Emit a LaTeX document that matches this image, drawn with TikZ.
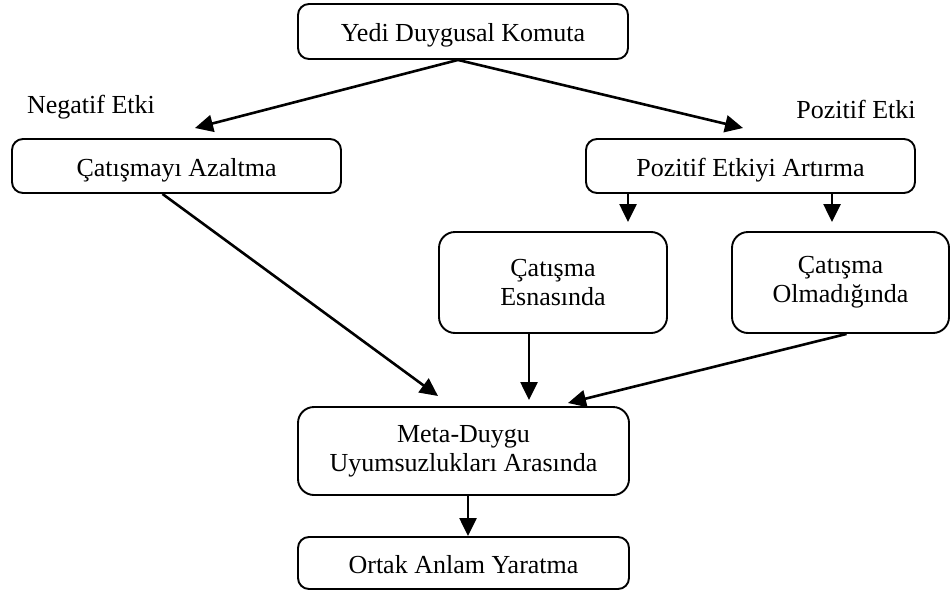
\documentclass[tikz,border=0pt]{standalone}
\usepackage{fontspec}
\setmainfont{Liberation Serif}
\usetikzlibrary{arrows.meta}

\begin{document}
\begin{tikzpicture}[x=1pt, y=-1pt,
  kutu/.style={draw, line width=1.9pt, rounded corners=11pt, align=center,
    font=\fontsize{26}{29}\selectfont, inner sep=0pt},
  tek/.style={text height=24pt, text depth=4pt},
  etiket/.style={font=\fontsize{26}{29}\selectfont, inner sep=0pt},
  ok/.style={line width=2.6pt, -{Triangle[length=18pt,width=17pt]}}]
  \useasboundingbox (0,0) rectangle (952,594);
  % kutular
  \node[kutu, tek, minimum width=330, minimum height=55] (yedi) at (463,31.5) {Yedi Duygusal Komuta};
  \node[kutu, tek, minimum width=329, minimum height=54] (azalt) at (176.5,166) {Çatışmayı Azaltma};
  \node[kutu, tek, minimum width=329, minimum height=54] (artir) at (750.5,166) {Pozitif Etkiyi Artırma};
  \node[kutu, minimum width=228, minimum height=101, rounded corners=16pt] (esna) at (553,282.5) {Çatışma\\Esnasında};
  \node[kutu, minimum width=217, minimum height=101, rounded corners=16pt] (olma) at (840.5,282.5) {Çatışma\\Olmadığında};
  \node[kutu, minimum width=331, minimum height=88, rounded corners=16pt] (meta) at (463.5,451) {Meta-Duygu\\Uyumsuzlukları Arasında};
  \node[kutu, tek, minimum width=331, minimum height=52] (ortak) at (463.5,563) {Ortak Anlam Yaratma};
  % etiketler
  \node[etiket] (neg) at (91,107) {Negatif Etki};
  \node[etiket] (poz) at (856,109) {Pozitif Etki};
  % ok uclari
  \coordinate (negUc) at (195,128);
  \coordinate (pozUc) at (743,128);
  \coordinate (esnaUc) at (628,222);
  \coordinate (olmaUc) at (832,222);
  \coordinate (metaUc1) at (438,396);
  \coordinate (metaUc2) at (529,400);
  \coordinate (metaUc3) at (568,403);
  \coordinate (ortakUc) at (468,536);
  % oklar
  \draw[ok] ([xshift=-5pt]yedi.south) -- (negUc);
  \draw[ok] ([xshift=-5pt]yedi.south) -- (pozUc);
  \draw[ok] (artir.south -| esnaUc) -- (esnaUc);
  \draw[ok] (artir.south -| olmaUc) -- (olmaUc);
  \draw[ok] ([xshift=-14pt]azalt.south) -- (metaUc1);
  \draw[ok] (esna.south -| metaUc2) -- (metaUc2);
  \draw[ok] ([xshift=6pt]olma.south) -- (metaUc3);
  \draw[ok] (meta.south -| ortakUc) -- (ortakUc);
\end{tikzpicture}
\end{document}
